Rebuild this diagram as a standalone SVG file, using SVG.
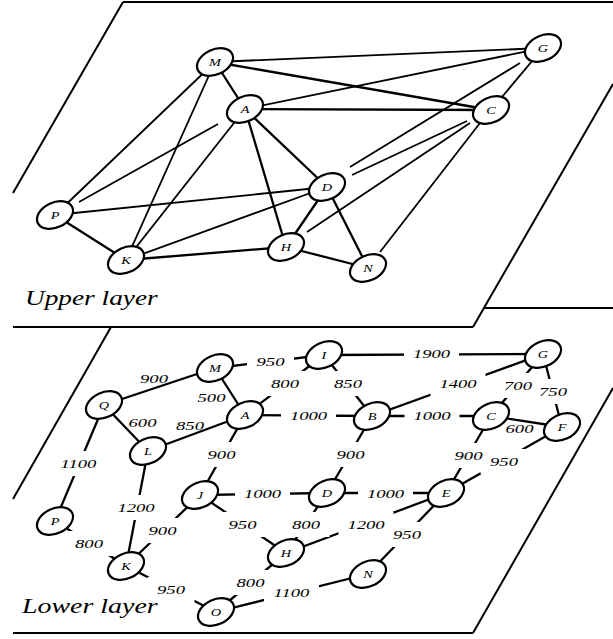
<svg xmlns="http://www.w3.org/2000/svg" xmlns:xlink="http://www.w3.org/1999/xlink" width="613" height="639" viewBox="0 0 613 639">
<style>
.plane{stroke:#000;stroke-width:2;fill:none}
.e{stroke:#000;stroke-width:2.3;fill:none}
.t{stroke:#000;stroke-width:1.8;fill:none}
.nd{fill:#fff;stroke:#000;stroke-width:2.2}
.nl{font-family:"Liberation Serif","DejaVu Serif","Times New Roman",serif;font-style:italic;font-size:11px;text-anchor:middle;fill:#000}
.lb{font-family:"Liberation Serif","DejaVu Serif","Times New Roman",serif;font-style:italic;font-size:13.5px;text-anchor:middle;fill:#000}
.layer{font-family:"Liberation Serif","DejaVu Serif","Times New Roman",serif;font-style:italic;font-size:21px;fill:#000}
</style>
<defs>
<ellipse id="node" class="nd" cx="0" cy="0" rx="19" ry="12.5" transform="rotate(-25)"/>
<mask id="lblmask" maskUnits="userSpaceOnUse" x="0" y="0" width="613" height="639">
<rect x="0" y="0" width="613" height="639" fill="#fff"/>
<g fill="#000">
<rect x="247" y="354.5" width="47" height="14"/>
<rect x="261.5" y="371" width="47" height="25"/>
<rect x="324.5" y="371" width="47" height="25"/>
<rect x="404" y="346.5" width="55" height="14"/>
<rect x="281" y="408.5" width="55" height="14"/>
<rect x="198" y="442" width="47" height="25"/>
<rect x="51" y="451" width="55" height="25"/>
<rect x="108.5" y="495" width="55" height="25"/>
<rect x="65.5" y="531" width="47" height="25"/>
<rect x="235" y="486.5" width="55" height="14"/>
<rect x="219" y="512" width="47" height="25"/>
<rect x="139" y="518" width="47" height="25"/>
<rect x="147.5" y="577" width="47" height="25"/>
<rect x="227" y="570" width="47" height="25"/>
<rect x="282.5" y="512" width="47" height="25"/>
<rect x="338.5" y="512" width="55" height="25"/>
<rect x="264" y="580" width="55" height="25"/>
<rect x="383.5" y="522" width="47" height="25"/>
<rect x="358" y="486.5" width="55" height="14"/>
<rect x="327" y="442" width="47" height="25"/>
<rect x="404.5" y="408.5" width="55" height="14"/>
<rect x="430.5" y="371" width="55" height="25"/>
<rect x="494.5" y="373" width="47" height="25"/>
<rect x="529.5" y="379" width="47" height="25"/>
<rect x="445" y="443" width="47" height="25"/>
<rect x="480.5" y="449" width="47" height="25"/>
</g>
</mask>
</defs>

<g id="planes">
<line class="plane" x1="123" y1="2" x2="613" y2="2"/>
<line class="plane" x1="123" y1="2" x2="13" y2="193"/>
<line class="plane" x1="613" y1="84" x2="473" y2="327"/>
<line class="plane" x1="484" y1="308" x2="613" y2="308"/>
<line class="plane" x1="13" y1="327" x2="473" y2="327"/>
<line class="plane" x1="111" y1="327" x2="13" y2="499"/>
<line class="plane" x1="13" y1="633" x2="473" y2="633"/>
<line class="plane" x1="473" y1="633" x2="613" y2="388"/>
</g>

<g id="connectors">
<g id="upper-edges">
<line class="t" x1="215" y1="62" x2="543" y2="48"/>
<line class="t" x1="215" y1="62" x2="55" y2="215"/>
<line class="t" x1="215" y1="62" x2="126" y2="260"/>
<line class="t" x1="245" y1="109" x2="543" y2="48"/>
<line class="t" x1="79" y1="202" x2="218" y2="124"/>
<line class="t" x1="245" y1="109" x2="126" y2="260"/>
<line class="t" x1="55" y1="215" x2="327" y2="187"/>
<line class="t" x1="126" y1="260" x2="327" y2="187"/>
<line class="t" x1="350" y1="167" x2="520" y2="63"/>
<line class="t" x1="352" y1="175" x2="467" y2="121"/>
<line class="t" x1="307" y1="232" x2="470" y2="123"/>
<line class="t" x1="380" y1="252" x2="480" y2="123"/>
<line class="t" x1="543" y1="48" x2="491" y2="110"/>
<line class="e" x1="215" y1="62" x2="245" y2="109"/>
<line class="e" x1="215" y1="62" x2="491" y2="110"/>
<line class="e" x1="245" y1="109" x2="491" y2="110"/>
<line class="e" x1="245" y1="109" x2="327" y2="187"/>
<line class="e" x1="245" y1="109" x2="286" y2="247"/>
<line class="e" x1="55" y1="215" x2="126" y2="260"/>
<line class="e" x1="126" y1="260" x2="286" y2="247"/>
<line class="e" x1="286" y1="247" x2="368" y2="268"/>
<line class="e" x1="327" y1="187" x2="368" y2="268"/>
<line class="e" x1="327" y1="187" x2="286" y2="247"/>
</g>
<g id="lower-edges" mask="url(#lblmask)">
<line class="e" x1="215" y1="368" x2="324" y2="355"/>
<line class="e" x1="324" y1="355" x2="245" y2="415"/>
<line class="e" x1="324" y1="355" x2="372" y2="416"/>
<line class="e" x1="324" y1="355" x2="543" y2="354"/>
<line class="e" x1="215" y1="368" x2="104" y2="405"/>
<line class="e" x1="215" y1="368" x2="245" y2="415"/>
<line class="e" x1="245" y1="415" x2="372" y2="416"/>
<line class="e" x1="245" y1="415" x2="148" y2="451"/>
<line class="e" x1="245" y1="415" x2="200" y2="495"/>
<line class="e" x1="104" y1="405" x2="148" y2="451"/>
<line class="e" x1="104" y1="405" x2="55" y2="521"/>
<line class="e" x1="148" y1="451" x2="126" y2="566"/>
<line class="e" x1="55" y1="521" x2="126" y2="566"/>
<line class="e" x1="200" y1="495" x2="327" y2="493"/>
<line class="e" x1="200" y1="495" x2="286" y2="553"/>
<line class="e" x1="200" y1="495" x2="126" y2="566"/>
<line class="e" x1="126" y1="566" x2="216" y2="612"/>
<line class="e" x1="286" y1="553" x2="216" y2="612"/>
<line class="e" x1="286" y1="553" x2="327" y2="493"/>
<line class="e" x1="286" y1="553" x2="446" y2="493"/>
<line class="e" x1="216" y1="612" x2="368" y2="574"/>
<line class="e" x1="368" y1="574" x2="446" y2="493"/>
<line class="e" x1="327" y1="493" x2="446" y2="493"/>
<line class="e" x1="327" y1="493" x2="372" y2="416"/>
<line class="e" x1="372" y1="416" x2="491" y2="416"/>
<line class="e" x1="372" y1="416" x2="543" y2="354"/>
<line class="e" x1="543" y1="354" x2="491" y2="416"/>
<line class="e" x1="543" y1="354" x2="562" y2="427"/>
<line class="e" x1="491" y1="416" x2="562" y2="427"/>
<line class="e" x1="491" y1="416" x2="446" y2="493"/>
<line class="e" x1="446" y1="493" x2="562" y2="427"/>
</g>
</g>

<g id="edge-labels">
<text class="lb" transform="translate(270.5,366) scale(1.38,1)">950</text>
<text class="lb" transform="translate(285,388) scale(1.38,1)">800</text>
<text class="lb" transform="translate(348,388) scale(1.38,1)">850</text>
<text class="lb" transform="translate(431.5,358) scale(1.38,1)">1900</text>
<text class="lb" transform="translate(154,383) scale(1.38,1)">900</text>
<text class="lb" transform="translate(211.5,402) scale(1.38,1)">500</text>
<text class="lb" transform="translate(308.5,420) scale(1.38,1)">1000</text>
<text class="lb" transform="translate(190,430) scale(1.38,1)">850</text>
<text class="lb" transform="translate(221.5,459) scale(1.38,1)">900</text>
<text class="lb" transform="translate(142.5,427) scale(1.38,1)">600</text>
<text class="lb" transform="translate(78.5,468) scale(1.38,1)">1100</text>
<text class="lb" transform="translate(136,512) scale(1.38,1)">1200</text>
<text class="lb" transform="translate(89,548) scale(1.38,1)">800</text>
<text class="lb" transform="translate(262.5,498) scale(1.38,1)">1000</text>
<text class="lb" transform="translate(242.5,529) scale(1.38,1)">950</text>
<text class="lb" transform="translate(162.5,535) scale(1.38,1)">900</text>
<text class="lb" transform="translate(171,594) scale(1.38,1)">950</text>
<text class="lb" transform="translate(250.5,587) scale(1.38,1)">800</text>
<text class="lb" transform="translate(306,529) scale(1.38,1)">800</text>
<text class="lb" transform="translate(366,529) scale(1.38,1)">1200</text>
<text class="lb" transform="translate(291.5,597) scale(1.38,1)">1100</text>
<text class="lb" transform="translate(407,539) scale(1.38,1)">950</text>
<text class="lb" transform="translate(385.5,498) scale(1.38,1)">1000</text>
<text class="lb" transform="translate(350.5,459) scale(1.38,1)">900</text>
<text class="lb" transform="translate(432,420) scale(1.38,1)">1000</text>
<text class="lb" transform="translate(458,388) scale(1.38,1)">1400</text>
<text class="lb" transform="translate(518,390) scale(1.38,1)">700</text>
<text class="lb" transform="translate(553,396) scale(1.38,1)">750</text>
<text class="lb" transform="translate(519.5,433) scale(1.38,1)">600</text>
<text class="lb" transform="translate(468.5,460) scale(1.38,1)">900</text>
<text class="lb" transform="translate(504,466) scale(1.38,1)">950</text>
</g>

<g id="u-M" transform="translate(215,62)"><use xlink:href="#node" href="#node"/><text class="nl" transform="translate(0,4) scale(1.3,1)">M</text></g>
<g id="u-A" transform="translate(245,109)"><use xlink:href="#node" href="#node"/><text class="nl" transform="translate(0,4) scale(1.3,1)">A</text></g>
<g id="u-G" transform="translate(543,48)"><use xlink:href="#node" href="#node"/><text class="nl" transform="translate(0,4) scale(1.3,1)">G</text></g>
<g id="u-C" transform="translate(491,110)"><use xlink:href="#node" href="#node"/><text class="nl" transform="translate(0,4) scale(1.3,1)">C</text></g>
<g id="u-D" transform="translate(327,187)"><use xlink:href="#node" href="#node"/><text class="nl" transform="translate(0,4) scale(1.3,1)">D</text></g>
<g id="u-P" transform="translate(55,215)"><use xlink:href="#node" href="#node"/><text class="nl" transform="translate(0,4) scale(1.3,1)">P</text></g>
<g id="u-K" transform="translate(126,260)"><use xlink:href="#node" href="#node"/><text class="nl" transform="translate(0,4) scale(1.3,1)">K</text></g>
<g id="u-H" transform="translate(286,247)"><use xlink:href="#node" href="#node"/><text class="nl" transform="translate(0,4) scale(1.3,1)">H</text></g>
<g id="u-N" transform="translate(368,268)"><use xlink:href="#node" href="#node"/><text class="nl" transform="translate(0,4) scale(1.3,1)">N</text></g>

<g id="l-M" transform="translate(215,368)"><use xlink:href="#node" href="#node"/><text class="nl" transform="translate(0,4) scale(1.3,1)">M</text></g>
<g id="l-Q" transform="translate(104,405)"><use xlink:href="#node" href="#node"/><text class="nl" transform="translate(0,4) scale(1.3,1)">Q</text></g>
<g id="l-A" transform="translate(245,415)"><use xlink:href="#node" href="#node"/><text class="nl" transform="translate(0,4) scale(1.3,1)">A</text></g>
<g id="l-L" transform="translate(148,451)"><use xlink:href="#node" href="#node"/><text class="nl" transform="translate(0,4) scale(1.3,1)">L</text></g>
<g id="l-I" transform="translate(324,355)"><use xlink:href="#node" href="#node"/><text class="nl" transform="translate(0,4) scale(1.3,1)">I</text></g>
<g id="l-B" transform="translate(372,416)"><use xlink:href="#node" href="#node"/><text class="nl" transform="translate(0,4) scale(1.3,1)">B</text></g>
<g id="l-G" transform="translate(543,354)"><use xlink:href="#node" href="#node"/><text class="nl" transform="translate(0,4) scale(1.3,1)">G</text></g>
<g id="l-C" transform="translate(491,416)"><use xlink:href="#node" href="#node"/><text class="nl" transform="translate(0,4) scale(1.3,1)">C</text></g>
<g id="l-F" transform="translate(562,427)"><use xlink:href="#node" href="#node"/><text class="nl" transform="translate(0,4) scale(1.3,1)">F</text></g>
<g id="l-J" transform="translate(200,495)"><use xlink:href="#node" href="#node"/><text class="nl" transform="translate(0,4) scale(1.3,1)">J</text></g>
<g id="l-D" transform="translate(327,493)"><use xlink:href="#node" href="#node"/><text class="nl" transform="translate(0,4) scale(1.3,1)">D</text></g>
<g id="l-E" transform="translate(446,493)"><use xlink:href="#node" href="#node"/><text class="nl" transform="translate(0,4) scale(1.3,1)">E</text></g>
<g id="l-P" transform="translate(55,521)"><use xlink:href="#node" href="#node"/><text class="nl" transform="translate(0,4) scale(1.3,1)">P</text></g>
<g id="l-K" transform="translate(126,566)"><use xlink:href="#node" href="#node"/><text class="nl" transform="translate(0,4) scale(1.3,1)">K</text></g>
<g id="l-H" transform="translate(286,553)"><use xlink:href="#node" href="#node"/><text class="nl" transform="translate(0,4) scale(1.3,1)">H</text></g>
<g id="l-N" transform="translate(368,574)"><use xlink:href="#node" href="#node"/><text class="nl" transform="translate(0,4) scale(1.3,1)">N</text></g>
<g id="l-O" transform="translate(216,612)"><use xlink:href="#node" href="#node"/><text class="nl" transform="translate(0,4) scale(1.3,1)">O</text></g>

<g id="layer-titles">
<text class="layer" transform="translate(25,305) scale(1.3,1)">Upper layer</text>
<text class="layer" transform="translate(22,613) scale(1.33,1)">Lower layer</text>
</g>
</svg>
